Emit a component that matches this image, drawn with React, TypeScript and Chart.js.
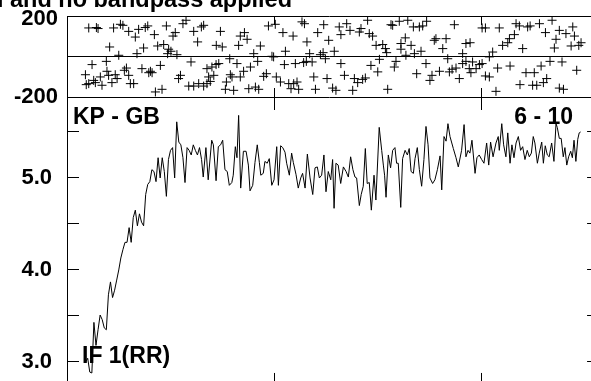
import React, { useEffect, useRef } from "react";
import { Chart, registerables } from "chart.js";

Chart.register(...registerables);

const FONT = "'Liberation Sans', Arial, Helvetica, sans-serif";

// ---- text ----
const TITLE = "Vector averaged, full cal and no bandpass applied";
const BASELINE_LABEL = "KP - GB";
const CHANNEL_LABEL = "6 - 10";
const IF_LABEL = "IF 1(RR)";

// ---- axes ----
const timeTicks = [100, 200];
const phaseTickLabels = [200, -200];
const ampTickValues = [3.0, 3.5, 4.0, 4.5, 5.0, 5.5];
const ampLabelValues = [3, 4, 5];

// ---- phase (deg) vs time ----
const phasePoints: [number, number][] = [
  [10.5, 141], [14.2, 143], [15, 138], [22.5, 141], [25.8, 159], [27, 154], [29.8, 124], [33, 96],
  [34.6, 134], [37.8, 143], [39, 151], [42.2, 108], [48, 151], [51.2, 101], [52.3, 118], [56, 162],
  [57.5, 179], [61.2, 124], [64.9, 146], [66, 154], [63.1, 72], [74.1, 124], [72.1, 55], [75, 47],
  [82.9, 55], [83.7, 101], [85.7, 118], [87, 85], [90.2, 14], [93.4, 52], [97.3, 151], [100.6, 159],
  [104.3, 118], [109.2, 101], [113.5, 171], [114.7, 162], [115.9, 72], [121.1, 118], [124, 157], [126.4, 80],
  [20.6, 47], [37, 42], [33.8, 14], [43.8, 52], [46.7, 59], [49.1, 36], [48.6, 14], [50.2, 26],
  [53.1, 9], [25, 6], [19, -24], [12.1, -40], [99, 1], [99.8, -2], [105.5, 26], [117.2, 14],
  [122.4, 9], [124.8, -11], [123.7, 19],
  [28.7, -57], [27.7, -68], [36.2, -60], [40.3, -73], [41.1, -80], [45.1, -44], [59.9, -27], [67.6, -60],
  [70, -52], [72, -40], [73.3, -35], [78.6, -11], [82.1, -35], [85.3, -73], [88.6, -52], [92.1, -24],
  [105, -40], [110.3, -35], [114.3, -30], [115.6, -24], [118.4, -27],
  [8.9, -90], [12.9, -118], [16.1, -101], [19.3, -73], [20.1, -93], [23.3, -90], [24.2, -109], [29.8, -93],
  [30.6, -134], [39.5, -80], [54.8, -93], [53.9, -109], [68.4, -101], [69.2, -123], [70.9, -93], [77, -126],
  [78.9, -90], [79.7, -101], [83.7, -101], [96.3, -85], [95, -98], [101.1, -101], [103.1, -126], [107.1, -134],
  [109.5, -134], [111.1, -126], [119.2, -101], [125.6, -109],
  [9.3, -139], [10.5, -134], [13.7, -129], [16.9, -142], [21.7, -129], [32.2, -134], [42.7, -175], [45.9, -162],
  [58.8, -146], [61.2, -146], [63.6, -134], [66, -146], [67.6, -134], [76.5, -162], [80.5, -167], [87.8, -159],
  [91, -151], [92.6, -162], [108.2, -159], [111.9, -162], [120, -162],
  [131.5, 146], [135.1, 162], [132.3, 108], [136.7, 129], [141.2, 121], [142, 138], [145.2, 179], [146, 113],
  [147.6, 101], [156.5, 157], [157.3, 154], [160.5, 174], [164.6, 179], [167.3, 146], [170.2, 146], [171.8, 151],
  [173.7, 174], [187.1, 157], [149.3, 55], [152.5, 59], [153.8, 39], [154.4, 19], [161.3, 64], [163.4, 92],
  [161.3, 36], [166.2, 55], [167.8, 14], [163.7, 6], [171, 26], [177.4, 80], [178.2, 88], [183.1, 88],
  [181.5, 39], [192.7, 64], [194.7, 68], [191.1, 14], [200.5, 141], [202.1, 141], [208.8, 141], [216.9, 162],
  [218.5, 151], [222.5, 146], [223.7, 151], [228.2, 162], [234.3, 179], [231.1, 118], [237.8, 129], [241, 113],
  [244.3, 146], [245.1, 101], [236.2, 85], [210.4, 55], [212.9, 68], [213.7, 88], [216.1, 108], [220.1, 39],
  [235.4, 42], [243.5, 52], [247.2, 55], [248.3, 68],
  [129.1, 26], [132.3, -35], [146.8, -44], [150.9, -14], [158.9, -24], [158.1, -52], [173.4, -35], [183.9, -11],
  [191.1, -35], [192.7, -24], [195.9, -27], [199.2, -40], [200.5, -35], [204, -2], [205.6, 22], [208, -57],
  [214, -47], [229, -47], [233.3, -24], [239.1, -27],
  [134, -93], [138.8, -109], [140.4, -129], [142.8, -113], [144.1, -106], [150.1, -76], [168.9, -85], [176.3, -93],
  [175.3, -118], [179.9, -73], [184.7, -76], [186, -63], [187.9, -57], [189.5, -109], [194.3, -60], [195.1, -80],
  [197.6, -60], [202.1, -96], [204, -101], [221.7, -80], [225.7, -80], [246.2, -68], [128.3, -156], [129.9, -167],
  [138, -167], [154.9, -162], [207.2, -172], [218.8, -139], [224.9, -142], [226.9, -142], [230.1, -129], [231.7, -109],
  [237.8, -156], [239.8, -162],
];

// ---- amplitude vs time ----
const ampPoints: [number, number][] = [
  [9, 3.0], [10, 3.04], [11, 2.89], [12, 2.88], [13, 3.43], [14, 3.18], [15, 3.35], [16, 3.51],
  [17, 3.46], [18, 3.37], [19, 3.35], [20, 3.73], [21, 3.87], [22, 3.7], [23, 3.78], [24, 3.89],
  [25, 4.0], [26, 4.13], [27, 4.22], [28, 4.3], [29, 4.3], [30, 4.46], [31, 4.3], [32, 4.57],
  [33, 4.65], [34, 4.48], [35, 4.61], [36, 4.52], [37, 4.48], [38, 4.82], [39, 4.93], [40, 4.96],
  [41, 5.09], [42, 5.07], [43, 4.96], [44, 5.22], [45, 5.0], [46, 5.22], [47, 5.07], [48, 4.8],
  [49, 5.2], [50, 5.3], [51, 5.33], [52, 5.0], [53, 5.61], [54, 5.39], [55, 5.36], [56, 5.22],
  [57, 4.95], [58, 5.33], [59, 5.3], [60, 5.25], [61, 5.36], [62, 5.3], [63, 5.25], [64, 5.33],
  [65, 5.2], [65.8, 5.01], [67.1, 5.33], [68.2, 4.98], [69.9, 5.41], [70.7, 5.36], [72, 4.97], [73.1, 5.34],
  [74.2, 5.36], [75.2, 5.41], [76.3, 5.09], [77.4, 5.07], [78.4, 4.92], [79.6, 4.95], [80.3, 5.03], [81.3, 5.34],
  [82.1, 5.22], [82.9, 5.68], [83.9, 4.89], [85.2, 5.29], [86.5, 5.29], [87.6, 5.14], [88.4, 4.86], [89.7, 4.92],
  [90.8, 5.17], [91.9, 5.36], [92.9, 5.17], [93.6, 5.03], [94.8, 5.05], [95.6, 5.18], [96.7, 5.16], [97.7, 5.21],
  [98.9, 4.92], [100, 4.98], [101.3, 5.34], [102.1, 4.92], [103.2, 5.35], [104.2, 5.33], [105.3, 5.28], [106.1, 5.16],
  [107.4, 5.03], [108.5, 5.27], [109.3, 5.17], [110.6, 5.04], [111.7, 4.89], [112.9, 5.0], [113.8, 5.05], [115, 4.89],
  [116.1, 5.26], [117.4, 5.0], [118.7, 4.82], [119.8, 5.11], [120.9, 5.12], [121.9, 5.0], [123, 5.03], [124.1, 5.25],
  [125.1, 4.85], [126.2, 5.07], [127.4, 4.98], [128.3, 5.2], [129, 4.67], [129.9, 5.16], [131, 5.14], [132.2, 4.94],
  [133.5, 5.12], [134.8, 5.07], [135.9, 5.01], [137, 5.23], [138.1, 5.09], [139.1, 5.01], [139.9, 5.0], [141.2, 4.7],
  [142.1, 4.82], [143.1, 4.91], [144.1, 5.32], [145, 4.94], [146, 4.95], [147, 4.65], [148.3, 5.03], [149.2, 4.76],
  [150.8, 5.55], [152, 5.3], [152.8, 5.14], [153.4, 5.03], [154.1, 4.79], [155.2, 5.25], [156.3, 5.11], [157.3, 5.3],
  [158.4, 5.33], [159.2, 5.16], [160, 5.16], [161.2, 4.68], [162.1, 5.21], [163.3, 5.3], [164.4, 5.25], [165.3, 5.32],
  [166.2, 5.07], [167.3, 5.05], [168.1, 5.21], [169.2, 5.33], [170.2, 5.09], [171.3, 4.91], [172.4, 5.2], [173.4, 5.56],
  [174.4, 5.36], [175.3, 5.0], [176.6, 4.94], [177.7, 4.98], [178.9, 5.09], [180.2, 5.24], [181, 4.87], [182.1, 5.45],
  [183.1, 5.4], [184, 5.59], [185, 5.45], [186.6, 5.32], [187.9, 5.22], [189, 5.12], [190.6, 5.3], [191.8, 5.58],
  [192.7, 5.23], [193.7, 5.3], [194.6, 5.27], [195.6, 5.41], [197.1, 5.05], [198, 5.22], [199.1, 5.25], [200.3, 5.2],
  [201.4, 5.16], [202.7, 5.38], [203.7, 5.14], [204.6, 5.39], [205.8, 5.23], [207.2, 5.38], [208.3, 5.45], [208.8, 5.3],
  [210, 5.59], [210.9, 5.36], [212, 5.23], [212.9, 5.49], [214, 5.16], [214.9, 5.36], [215.9, 5.22], [216.9, 5.38],
  [218, 5.45], [219.1, 5.3], [220.1, 5.34], [221.2, 5.2], [222.3, 5.3], [223.3, 5.23], [224.3, 5.27], [225.2, 5.45],
  [226, 5.38], [227.2, 5.16], [228.1, 5.27], [229.3, 5.39], [230.1, 5.16], [231, 5.35], [232, 5.25], [232.9, 5.23],
  [234.1, 5.38], [235.2, 5.18], [236.2, 5.59], [236.8, 5.55], [237.8, 5.43], [238.7, 5.43], [239.7, 5.23], [240.5, 5.33],
  [241.4, 5.14], [242.3, 5.23], [243.3, 5.29], [244.1, 5.22], [244.9, 5.41], [245.8, 5.18], [246.7, 5.42], [247.4, 5.49],
  [248.1, 5.5],
];

// ---- ranges ----
const X_MIN = 0;
const X_MAX = 253.1;
const X_FRAME_END = 257;
const PH_MIN = -200;
const PH_MAX = 200;
const AMP_MIN = 2.793;
const AMP_MAX = 5.88;
const AMP_FRAME_BOTTOM = 2.75;

const fixWidth = (s: any) => {
  s.width = 67;
  s.paddingTop = 0;
  s.paddingBottom = 0;
  s.paddingLeft = 0;
  s.paddingRight = 0;
};

const framePlugin = {
  id: "frame",
  afterDatasetsDraw(chart: any) {
    const { ctx, scales } = chart;
    const x = scales.x;
    const yp = scales.yPh;
    const ya = scales.yAmp;
    const h = (v: number) => Math.floor(v) + 0.5;
    const left = x.getPixelForValue(X_MIN);
    const right = x.getPixelForValue(X_FRAME_END);
    const phTop = yp.getPixelForValue(PH_MAX);
    const phBot = yp.getPixelForValue(PH_MIN);
    const ph0 = yp.getPixelForValue(0);
    const ampBot = ya.getPixelForValue(AMP_FRAME_BOTTOM);

    ctx.save();
    ctx.strokeStyle = "#000";
    ctx.lineWidth = 1;
    ctx.beginPath();
    for (const yy of [phTop, ph0, phBot, ampBot]) {
      ctx.moveTo(left, h(yy));
      ctx.lineTo(right, h(yy));
    }
    ctx.moveTo(h(left), phTop);
    ctx.lineTo(h(left), ampBot);
    ctx.moveTo(h(right), phTop);
    ctx.lineTo(h(right), ampBot);
    for (const t of timeTicks) {
      const px = h(x.getPixelForValue(t));
      ctx.moveTo(px, phTop);
      ctx.lineTo(px, phTop + 9);
      ctx.moveTo(px, phBot - 9);
      ctx.lineTo(px, phBot + 13);
      ctx.moveTo(px, ampBot);
      ctx.lineTo(px, ampBot - 12);
    }
    for (const v of ampTickValues) {
      const py = h(ya.getPixelForValue(v));
      ctx.moveTo(left, py);
      ctx.lineTo(left + 12, py);
      ctx.moveTo(right, py);
      ctx.lineTo(right - 12, py);
    }
    ctx.stroke();

    ctx.fillStyle = "#000";
    // phase tick labels
    ctx.font = `bold 22px ${FONT}`;
    ctx.textAlign = "right";
    ctx.textBaseline = "middle";
    for (const v of phaseTickLabels) {
      const off = v > 0 ? 3 : 0;
      ctx.fillText(String(v), left - 9, yp.getPixelForValue(v) + off);
    }
    // panel annotations
    ctx.font = `bold 23px ${FONT}`;
    ctx.textBaseline = "alphabetic";
    ctx.textAlign = "left";
    ctx.fillText(BASELINE_LABEL, left + 6, phBot + 27);
    ctx.fillText(IF_LABEL, left + 15, ya.getPixelForValue(3.0) + 1);
    ctx.textAlign = "right";
    ctx.fillText(CHANNEL_LABEL, right - 26, phBot + 27);
    // title (partly off the canvas)
    ctx.font = `bold 23.5px ${FONT}`;
    ctx.fillText(TITLE, 292, 7);
    ctx.restore();
  },
};

export default function App() {
  const ref = useRef<HTMLCanvasElement | null>(null);

  useEffect(() => {
    document.body.style.overflow = "hidden";
    const canvas = ref.current;
    if (!canvas) return;
    const chart = new Chart(canvas, {
      type: "scatter",
      data: {
        datasets: [
          {
            label: "Amplitude",
            data: ampPoints.map(([t, v]) => ({ x: t, y: v })),
            yAxisID: "yAmp",
            showLine: true,
            borderColor: "#000",
            backgroundColor: "#000",
            borderWidth: 1,
            pointRadius: 0,
            tension: 0,
          },
          {
            label: "Phase",
            data: phasePoints.map(([t, p]) => ({ x: t, y: p })),
            yAxisID: "yPh",
            showLine: false,
            pointStyle: "cross",
            pointRadius: 4.5,
            borderColor: "#000",
            borderWidth: 1,
          },
        ],
      },
      options: {
        animation: false,
        responsive: false,
        devicePixelRatio: 1,
        layout: { autoPadding: false, padding: { top: 16, left: 0, right: 0, bottom: 0 } },
        plugins: { legend: { display: false }, tooltip: { enabled: false }, title: { display: false } },
        scales: {
          x: {
            type: "linear",
            min: X_MIN,
            max: X_MAX,
            display: false,
          },
          yAmp: {
            type: "linear",
            position: "left",
            stack: "panels",
            stackWeight: 284,
            weight: 1,
            min: AMP_MIN,
            max: AMP_MAX,
            grid: { display: false, drawTicks: false },
            border: { display: false },
            afterBuildTicks: (s: any) => {
              s.ticks = ampTickValues.map((v) => ({ value: v }));
            },
            afterFit: fixWidth,
            ticks: {
              autoSkip: false,
              padding: 15,
              color: "#000",
              font: { family: FONT, size: 22, weight: "bold" },
              callback: (v: any) => (ampLabelValues.includes(Number(v)) ? Number(v).toFixed(1) : ""),
            },
          },
          yPh: {
            type: "linear",
            position: "left",
            stack: "panels",
            stackWeight: 81,
            weight: 2,
            min: PH_MIN,
            max: PH_MAX,
            grid: { display: false, drawTicks: false },
            border: { display: false },
            ticks: { display: false },
            afterFit: fixWidth,
          },
        },
      },
      plugins: [framePlugin],
    } as any);
    return () => chart.destroy();
  }, []);

  return (
    <div style={{ position: "fixed", left: 0, top: 0, width: 591, height: 381, background: "#fff" }}>
      <canvas ref={ref} width={591} height={381} style={{ display: "block" }} />
    </div>
  );
}
